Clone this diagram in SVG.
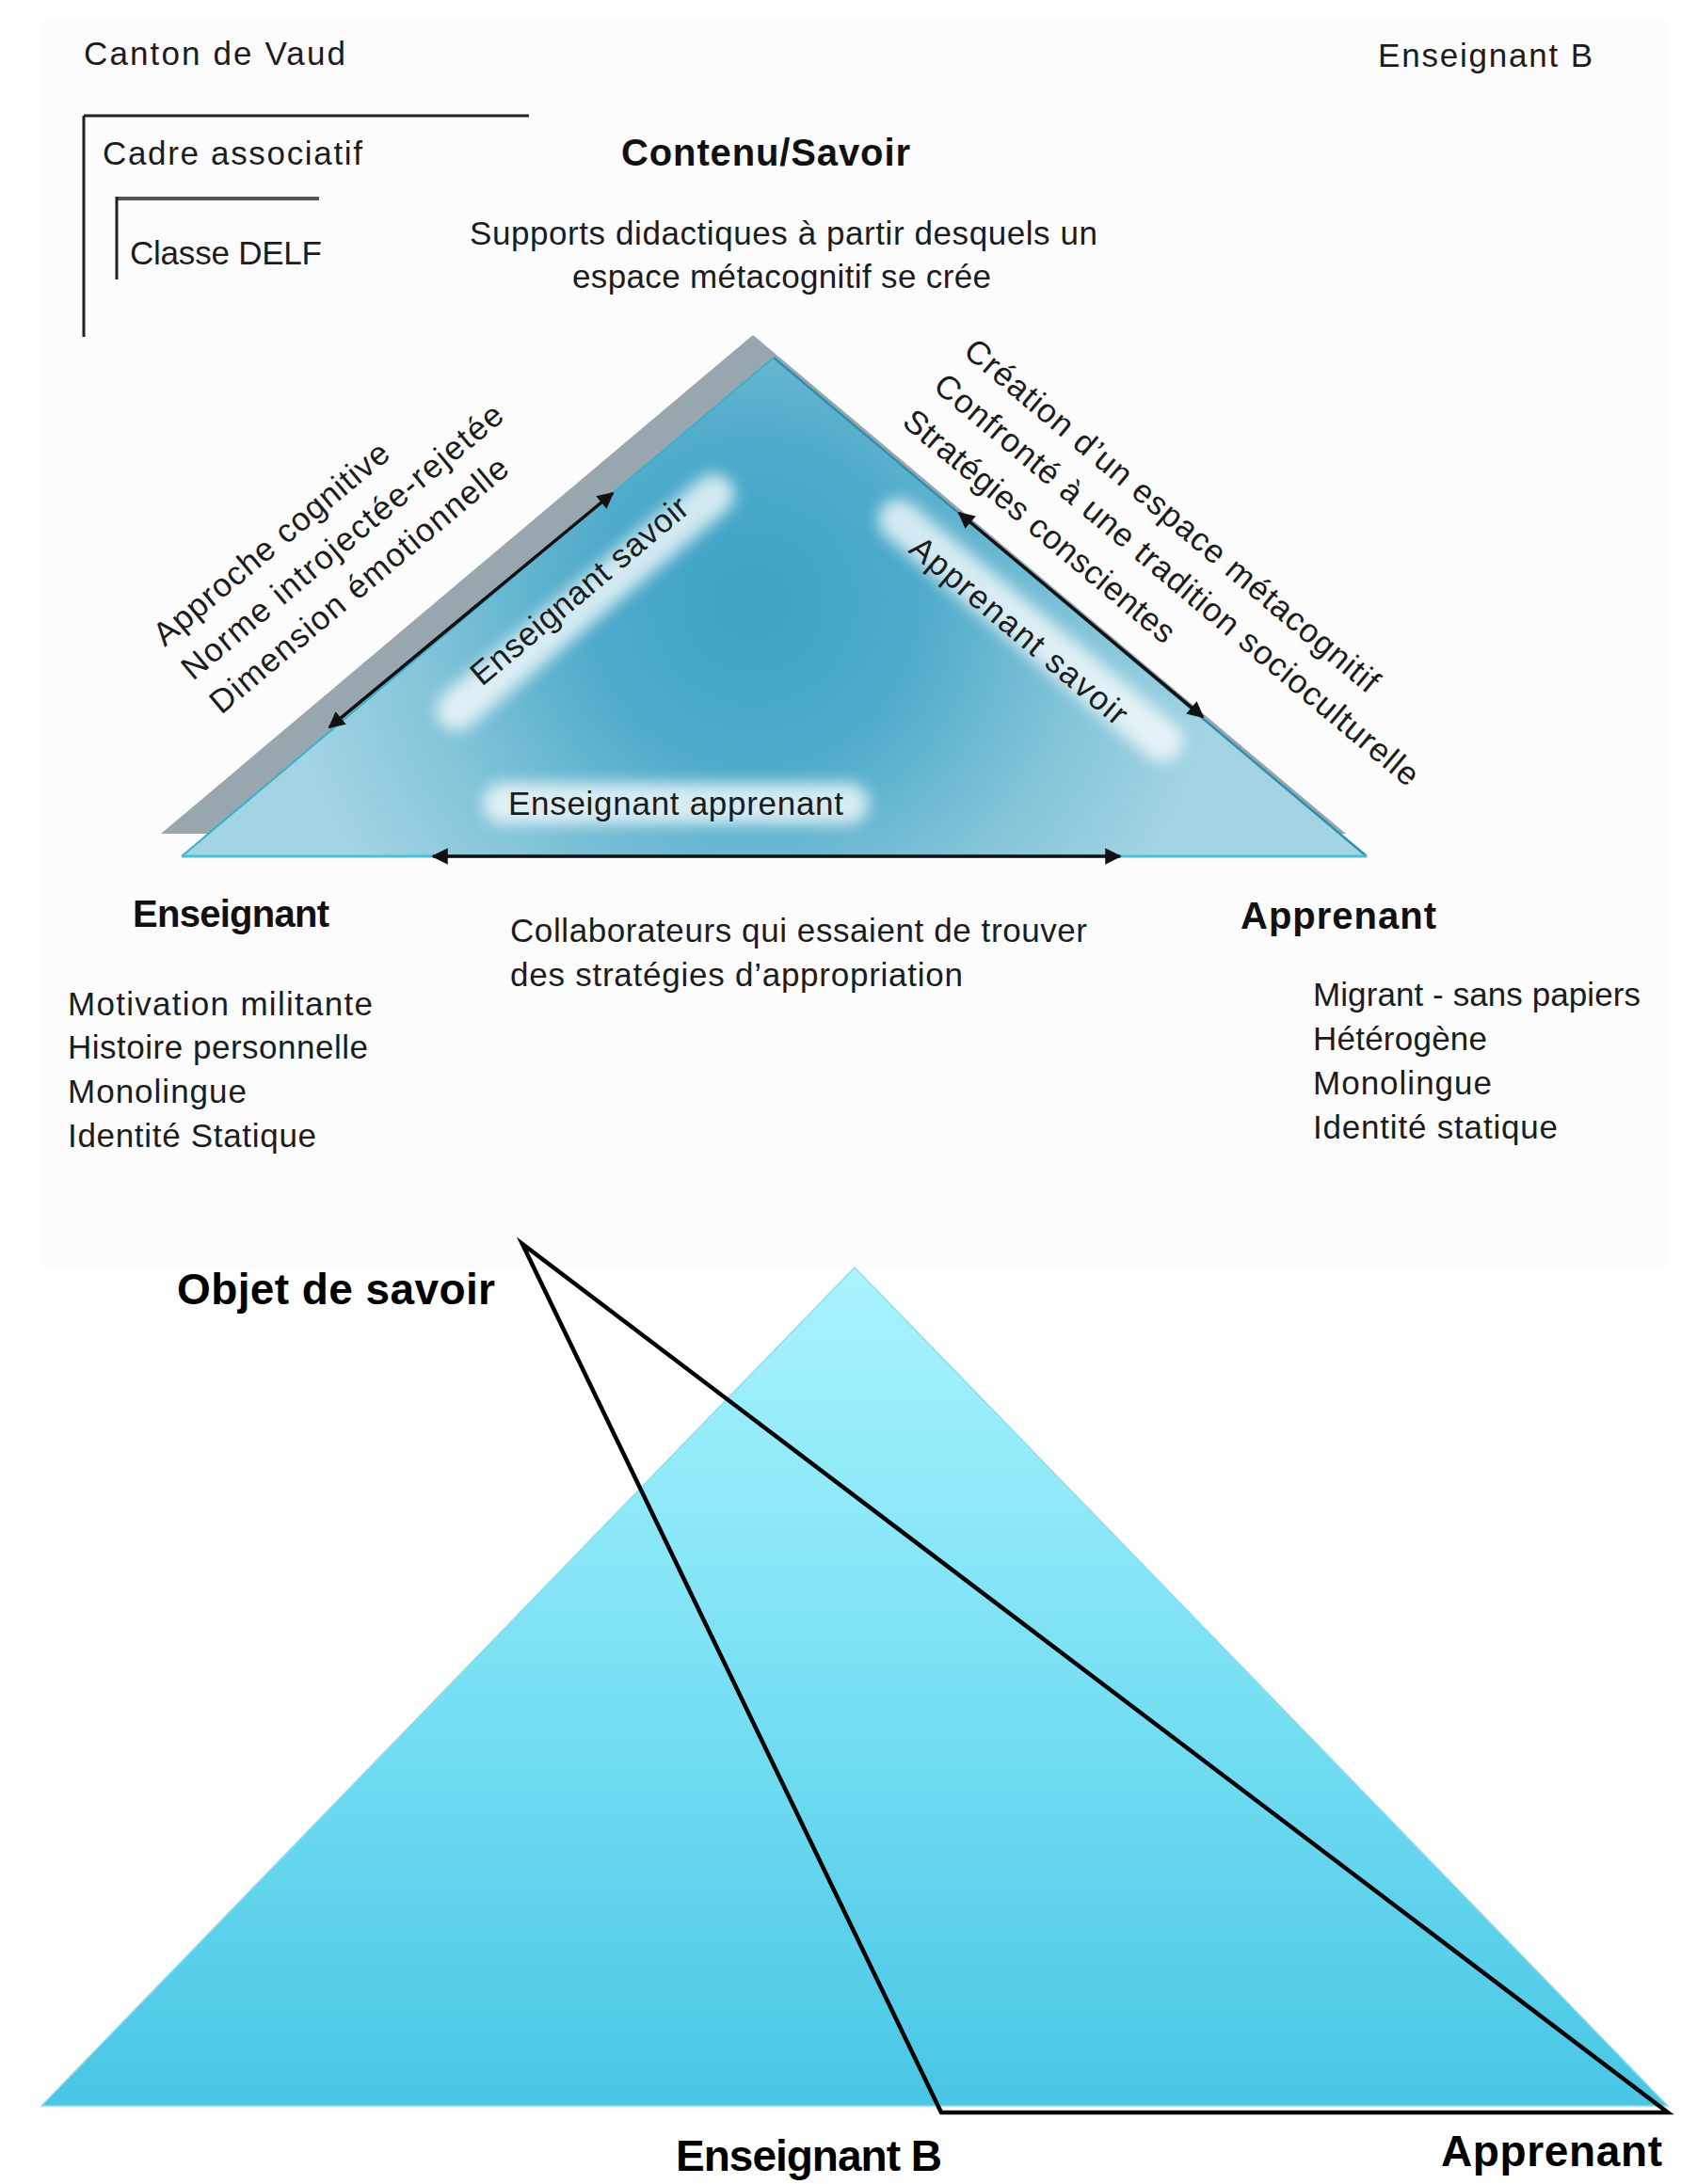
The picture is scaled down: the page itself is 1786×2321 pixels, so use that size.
<svg xmlns="http://www.w3.org/2000/svg" width="1786" height="2321" viewBox="0 0 1786 2321">
<defs>
<style>
.t{font-family:"Liberation Sans",Arial,sans-serif;font-size:35px;fill:#1c1c1c;}
.b{font-family:"Liberation Sans",Arial,sans-serif;font-size:40px;font-weight:bold;fill:#111;}
.bb{font-family:"Liberation Sans",Arial,sans-serif;font-size:46px;font-weight:bold;fill:#000;}
.arr{stroke:#111;stroke-width:3.5;fill:none;marker-start:url(#ah);marker-end:url(#ah);}
.glow{fill:#fff;opacity:0.75;filter:url(#blur);}
</style>
<marker id="ah" viewBox="0 0 10 10" refX="9" refY="5" markerWidth="6" markerHeight="5" markerUnits="strokeWidth" orient="auto-start-reverse">
<path d="M0,0 L10,5 L0,10 z" fill="#111"/>
</marker>
<filter id="blur" x="-30%" y="-100%" width="160%" height="300%"><feGaussianBlur stdDeviation="8"/></filter>
<filter id="sh" x="-10%" y="-10%" width="120%" height="120%"><feGaussianBlur stdDeviation="2"/></filter>
<radialGradient id="tg" gradientUnits="userSpaceOnUse" cx="800" cy="640" r="500">
<stop offset="0" stop-color="#3da2c4"/>
<stop offset="0.35" stop-color="#4eabca"/>
<stop offset="0.7" stop-color="#82c4d8"/>
<stop offset="1" stop-color="#a2d4e3"/>
</radialGradient>
<linearGradient id="bg2" x1="0" y1="1347" x2="0" y2="2238" gradientUnits="userSpaceOnUse">
<stop offset="0" stop-color="#aaf4fd"/>
<stop offset="0.5" stop-color="#78e0f4"/>
<stop offset="1" stop-color="#48c6e4"/>
</linearGradient>
</defs>
<rect width="1786" height="2321" fill="#fff"/>
<rect x="46" y="20" width="1725" height="1327" fill="#fcfcfc"/>

<g id="frame-canton">
<text class="t" x="89" y="69" textLength="278">Canton de Vaud</text>
</g>
<g id="label-enseignant-b-top">
<text class="t" x="1464" y="71" textLength="228">Enseignant B</text>
</g>
<g id="frame-cadre">
<path d="M89,123 H562 M89,123 V358" stroke="#222" stroke-width="3" fill="none"/>
<text class="t" x="109" y="175" textLength="276">Cadre associatif</text>
</g>
<g id="frame-classe">
<path d="M124,211 H339" stroke="#555" stroke-width="4" fill="none"/>
<path d="M124,209 V297" stroke="#222" stroke-width="3" fill="none"/>
<text class="t" x="138" y="281" textLength="204">Classe DELF</text>
</g>

<g id="node-contenu">
<text class="b" x="660" y="176" textLength="307">Contenu/Savoir</text>
<text class="t" x="499" y="260" textLength="667">Supports didactiques à partir desquels un</text>
<text class="t" x="608" y="306" textLength="445">espace métacognitif se crée</text>
</g>

<g id="upper-triangle">
<polygon points="171,886 800,356 1430,886" fill="#98a7ad"/>
<polygon points="193,910 822,380 1452,910" fill="url(#tg)"/>
<path d="M822,380 L1452,910" stroke="#2e8fae" stroke-width="2.5" fill="none"/>
<path d="M193,910 L822,380" stroke="#3ab0cf" stroke-width="2" fill="none"/>
<path d="M193,910 L1452,910" stroke="#45c2dc" stroke-width="3" fill="none"/>
<rect x="-200" y="-22" width="400" height="44" rx="22" class="glow" transform="translate(622,640) rotate(-40)"/>
<rect x="-205" y="-22" width="410" height="44" rx="22" class="glow" transform="translate(1095,670) rotate(40)"/>
<rect x="-205" y="-22" width="410" height="44" rx="22" class="glow" transform="translate(718,854)"/>
</g>

<g id="connectors">
<line class="arr" x1="350" y1="773" x2="651" y2="524"/>
<line class="arr" x1="1019" y1="545" x2="1278" y2="762"/>
<line class="arr" x1="460" y1="910" x2="1190" y2="910"/>
</g>

<g id="edge-labels">
<text class="t" transform="translate(512,730) rotate(-40)" textLength="290">Enseignant savoir</text>
<text class="t" transform="translate(964,586) rotate(40)" textLength="290">Apprenant savoir</text>
<text class="t" x="540" y="866" textLength="356">Enseignant apprenant</text>
</g>

<g id="left-notes">
<text class="t" transform="translate(175,688) rotate(-40)" textLength="315">Approche cognitive</text>
<text class="t" transform="translate(205,724) rotate(-40)" textLength="434">Norme introjectée-rejetée</text>
<text class="t" transform="translate(235,760) rotate(-40)" textLength="402">Dimension émotionnelle</text>
</g>

<g id="right-notes">
<text class="t" transform="translate(1022,376) rotate(40)" textLength="563">Création d’un espace métacognitif</text>
<text class="t" transform="translate(990,413) rotate(40)" textLength="660">Confronté à une tradition socioculturelle</text>
<text class="t" transform="translate(957,451) rotate(40)" textLength="365">Stratégies conscientes</text>
</g>

<g id="node-enseignant">
<text class="b" x="141" y="985" textLength="209">Enseignant</text>
<text class="t" x="72" y="1079" textLength="324">Motivation militante</text>
<text class="t" x="72" y="1125" textLength="319">Histoire personnelle</text>
<text class="t" x="72" y="1172" textLength="190">Monolingue</text>
<text class="t" x="72" y="1219" textLength="264">Identité Statique</text>
</g>

<g id="note-collaborateurs">
<text class="t" x="542" y="1001" textLength="613">Collaborateurs qui essaient de trouver</text>
<text class="t" x="542" y="1048" textLength="481">des stratégies d’appropriation</text>
</g>

<g id="node-apprenant">
<text class="b" x="1318" y="987" textLength="208">Apprenant</text>
<text class="t" x="1395" y="1069" textLength="348">Migrant - sans papiers</text>
<text class="t" x="1395" y="1116" textLength="185">Hétérogène</text>
<text class="t" x="1395" y="1163" textLength="190">Monolingue</text>
<text class="t" x="1395" y="1210" textLength="260">Identité statique</text>
</g>

<g id="lower-triangle">
<line x1="46" y1="2241" x2="1770" y2="2241" stroke="#8a9aa0" stroke-width="3" opacity="0.6" filter="url(#sh)"/>
<polygon points="44,2238 908,1347 1772,2238" fill="url(#bg2)" stroke="#8fdcee" stroke-width="1.5"/>
</g>

<g id="lower-connectors">
<polygon points="555,1322 1000,2245 1772,2245" fill="none" stroke="#000" stroke-width="4.5" stroke-linejoin="miter" stroke-miterlimit="30"/>
</g>

<g id="node-objet">
<text class="bb" x="188" y="1386" textLength="338">Objet de savoir</text>
</g>
<g id="node-enseignant-b">
<text class="bb" x="718" y="2307" textLength="283">Enseignant B</text>
</g>
<g id="node-apprenant-b">
<text class="bb" x="1531" y="2302" textLength="235">Apprenant</text>
</g>
</svg>
